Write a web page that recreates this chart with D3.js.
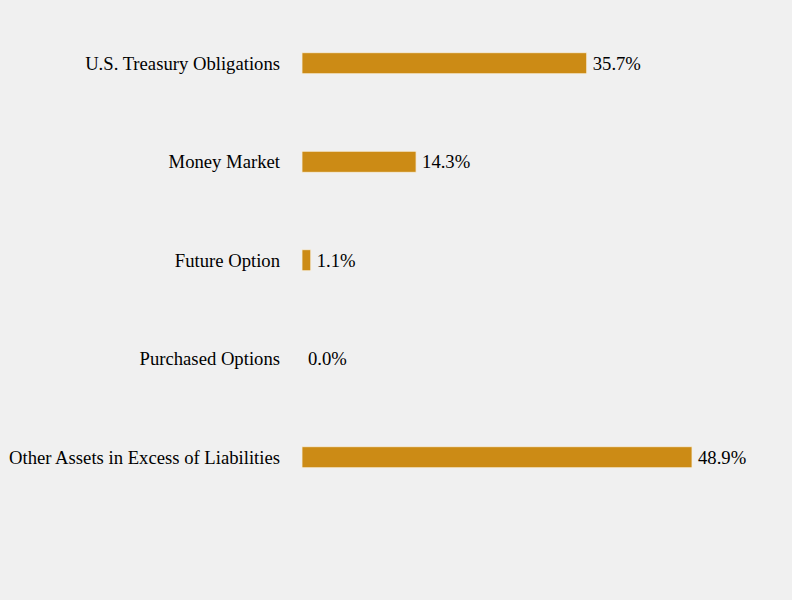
<!DOCTYPE html>
<html>
<head>
<meta charset="utf-8">
<script src="https://cdn.jsdelivr.net/npm/d3@7"></script>
<style>
  html, body { margin: 0; padding: 0; background: #f0f0f0; }
  svg { display: block; }
</style>
</head>
<body>
<script>
var categories = [
  'U.S. Treasury Obligations',
  'Money Market',
  'Future Option',
  'Purchased Options',
  'Other Assets in Excess of Liabilities'
];
var values = [35.7, 14.3, 1.1, 0.0, 48.9];
var valueLabels = ['35.7%', '14.3%', '1.1%', '0.0%', '48.9%'];

var width = 792;
var height = 600;
var barHeight = 21;
var fontSize = 18.67;

var rows = categories.map(function(c, i) {
  return { name: c, value: values[i], label: valueLabels[i] };
});

var svg = d3.select('body')
  .append('svg')
  .attr('width', width)
  .attr('height', height);

svg.append('rect')
  .attr('width', width)
  .attr('height', height)
  .attr('fill', '#f0f0f0');

var x = d3.scaleLinear().domain([0, 48.9]).range([302, 692]);
var y = d3.scalePoint().domain(categories).range([14, 506.5]).padding(0.5);

// category labels
svg.selectAll('text.cat')
  .data(rows)
  .enter().append('text')
  .attr('class', 'cat')
  .attr('x', 280)
  .attr('y', function(d) { return y(d.name); })
  .attr('dy', '0.35em')
  .attr('text-anchor', 'end')
  .attr('font-family', '"Liberation Serif", "Times New Roman", serif')
  .attr('font-size', fontSize)
  .attr('fill', '#000')
  .text(function(d) { return d.name; });

// bars
svg.selectAll('rect.bar')
  .data(rows.filter(function(d) { return d.value > 0; }))
  .enter().append('rect')
  .attr('class', 'bar')
  .attr('x', x(0))
  .attr('y', function(d) { return y(d.name) - barHeight / 2; })
  .attr('width', function(d) { return x(d.value) - x(0); })
  .attr('height', barHeight)
  .attr('fill', '#cc8b15')
  .attr('stroke', '#f6eedd')
  .attr('stroke-width', 0.8);

// value labels
svg.selectAll('text.val')
  .data(rows)
  .enter().append('text')
  .attr('class', 'val')
  .attr('x', function(d) { return x(d.value) + 6; })
  .attr('y', function(d) { return y(d.name); })
  .attr('dy', '0.35em')
  .attr('font-family', '"Liberation Serif", "Times New Roman", serif')
  .attr('font-size', fontSize)
  .attr('fill', '#000')
  .text(function(d) { return d.label; });
</script>
</body>
</html>
